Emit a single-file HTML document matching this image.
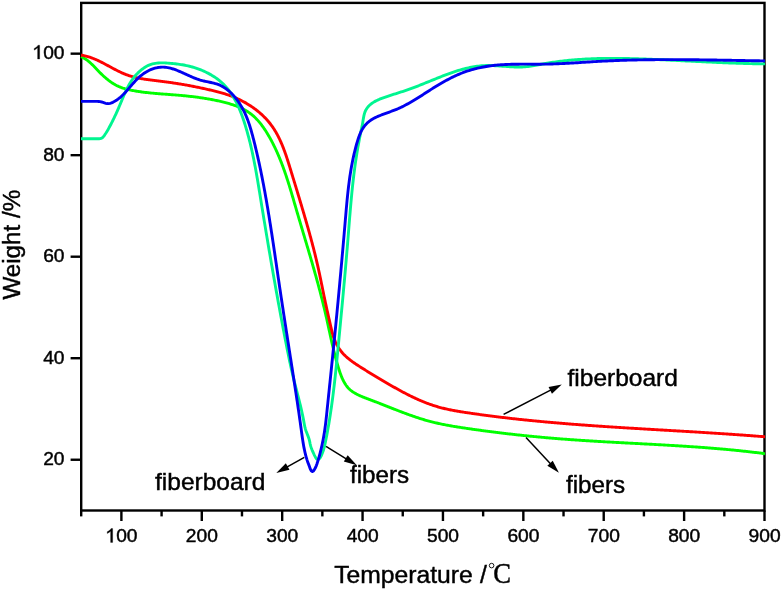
<!DOCTYPE html>
<html><head><meta charset="utf-8"><style>
html,body{margin:0;padding:0;background:#fff;}
body{width:782px;height:590px;overflow:hidden;}
svg{display:block;will-change:transform;}
text{font-family:"Liberation Sans", sans-serif;fill:#000;stroke:#000;stroke-width:0.45px;}
</style></head><body>
<svg width="782" height="590" viewBox="0 0 782 590">
<rect x="81.20" y="2.90" width="683.30" height="507.60" fill="none" stroke="#000" stroke-width="2.4"/>
<g stroke="#000" stroke-width="2.4" fill="none">
<line x1="121.39" y1="510.50" x2="121.39" y2="521" /><line x1="201.78" y1="510.50" x2="201.78" y2="521" /><line x1="282.17" y1="510.50" x2="282.17" y2="521" /><line x1="362.56" y1="510.50" x2="362.56" y2="521" /><line x1="442.95" y1="510.50" x2="442.95" y2="521" /><line x1="523.34" y1="510.50" x2="523.34" y2="521" /><line x1="603.72" y1="510.50" x2="603.72" y2="521" /><line x1="684.11" y1="510.50" x2="684.11" y2="521" /><line x1="764.50" y1="510.50" x2="764.50" y2="521" /><line x1="81.20" y1="510.50" x2="81.20" y2="516.4" /><line x1="161.59" y1="510.50" x2="161.59" y2="516.4" /><line x1="241.98" y1="510.50" x2="241.98" y2="516.4" /><line x1="322.36" y1="510.50" x2="322.36" y2="516.4" /><line x1="402.75" y1="510.50" x2="402.75" y2="516.4" /><line x1="483.14" y1="510.50" x2="483.14" y2="516.4" /><line x1="563.53" y1="510.50" x2="563.53" y2="516.4" /><line x1="643.92" y1="510.50" x2="643.92" y2="516.4" /><line x1="724.31" y1="510.50" x2="724.31" y2="516.4" /><line x1="70.6" y1="459.74" x2="81.20" y2="459.74" /><line x1="70.6" y1="358.22" x2="81.20" y2="358.22" /><line x1="70.6" y1="256.70" x2="81.20" y2="256.70" /><line x1="70.6" y1="155.18" x2="81.20" y2="155.18" /><line x1="70.6" y1="53.66" x2="81.20" y2="53.66" />
</g>
<g fill="none" stroke-width="2.9" stroke-linejoin="round" stroke-linecap="butt">
<path d="M81.01 56.59 L81.92 56.99 L82.81 57.43 L83.68 57.90 L84.53 58.40 L85.37 58.93 L86.18 59.48 L86.98 60.06 L87.76 60.66 L88.54 61.28 L89.29 61.92 L90.04 62.57 L90.78 63.24 L91.51 63.93 L92.23 64.63 L92.95 65.34 L93.66 66.06 L94.36 66.78 L95.06 67.52 L95.76 68.25 L96.46 68.99 L97.16 69.73 L97.87 70.47 L98.57 71.21 L99.28 71.94 L99.99 72.66 L100.71 73.38 L101.44 74.10 L102.17 74.80 L102.91 75.50 L103.65 76.19 L104.40 76.86 L105.16 77.53 L105.92 78.19 L106.69 78.83 L107.47 79.47 L108.25 80.09 L109.05 80.69 L109.85 81.29 L110.65 81.86 L111.47 82.43 L112.30 82.97 L113.13 83.50 L113.98 84.02 L114.83 84.51 L115.69 84.99 L116.56 85.45 L117.45 85.88 L118.34 86.30 L119.24 86.70 L120.15 87.07 L121.07 87.43 L122.01 87.77 L122.94 88.09 L123.89 88.39 L124.84 88.68 L125.80 88.95 L126.77 89.21 L127.74 89.46 L128.72 89.69 L129.70 89.91 L130.69 90.12 L131.67 90.32 L132.67 90.51 L133.66 90.70 L134.66 90.87 L135.65 91.04 L136.65 91.20 L137.65 91.36 L138.65 91.51 L139.65 91.66 L140.65 91.80 L141.66 91.94 L142.66 92.07 L143.66 92.20 L144.67 92.32 L145.67 92.44 L146.68 92.56 L147.68 92.67 L148.69 92.78 L149.69 92.88 L150.70 92.98 L151.71 93.08 L152.71 93.17 L153.72 93.27 L154.73 93.36 L155.74 93.44 L156.74 93.53 L157.75 93.61 L158.76 93.70 L159.77 93.78 L160.77 93.85 L161.78 93.93 L162.79 94.01 L163.79 94.08 L164.80 94.16 L165.81 94.24 L166.81 94.31 L167.82 94.38 L168.82 94.46 L169.82 94.53 L170.83 94.61 L171.83 94.69 L172.83 94.76 L173.83 94.84 L174.83 94.92 L175.83 95.00 L176.83 95.09 L177.83 95.17 L178.82 95.25 L179.82 95.34 L180.82 95.43 L181.81 95.52 L182.81 95.61 L183.80 95.71 L184.79 95.81 L185.79 95.91 L186.78 96.01 L187.77 96.11 L188.76 96.22 L189.76 96.33 L190.75 96.44 L191.74 96.55 L192.73 96.67 L193.72 96.79 L194.71 96.91 L195.70 97.03 L196.69 97.16 L197.68 97.30 L198.67 97.43 L199.66 97.57 L200.65 97.71 L201.64 97.86 L202.63 98.00 L203.62 98.16 L204.61 98.31 L205.60 98.47 L206.59 98.64 L207.58 98.81 L208.58 98.98 L209.57 99.16 L210.56 99.34 L211.55 99.52 L212.54 99.71 L213.54 99.90 L214.53 100.10 L215.52 100.31 L216.52 100.51 L217.51 100.73 L218.51 100.94 L219.51 101.17 L220.50 101.39 L221.50 101.63 L222.50 101.87 L223.50 102.11 L224.49 102.36 L225.49 102.62 L226.48 102.89 L227.47 103.16 L228.46 103.44 L229.44 103.73 L230.43 104.03 L231.40 104.33 L232.38 104.65 L233.35 104.97 L234.31 105.31 L235.27 105.65 L236.22 106.01 L237.17 106.38 L238.11 106.76 L239.04 107.15 L239.96 107.55 L240.88 107.97 L241.78 108.40 L242.68 108.84 L243.57 109.30 L244.45 109.77 L245.32 110.25 L246.17 110.75 L247.02 111.26 L247.85 111.79 L248.68 112.34 L249.49 112.90 L250.28 113.48 L251.07 114.08 L251.84 114.69 L252.60 115.32 L253.34 115.96 L254.07 116.62 L254.79 117.30 L255.50 117.98 L256.20 118.69 L256.88 119.40 L257.56 120.13 L258.22 120.87 L258.87 121.62 L259.52 122.38 L260.15 123.15 L260.77 123.93 L261.38 124.72 L261.99 125.53 L262.58 126.33 L263.17 127.15 L263.74 127.98 L264.31 128.81 L264.87 129.65 L265.43 130.49 L265.97 131.34 L266.51 132.19 L267.04 133.05 L267.56 133.91 L268.08 134.78 L268.59 135.65 L269.10 136.52 L269.60 137.39 L270.09 138.27 L270.58 139.15 L271.06 140.03 L271.53 140.92 L272.01 141.80 L272.47 142.69 L272.93 143.59 L273.38 144.48 L273.83 145.38 L274.27 146.28 L274.71 147.18 L275.15 148.08 L275.57 148.99 L276.00 149.89 L276.42 150.80 L276.83 151.72 L277.24 152.63 L277.64 153.55 L278.04 154.47 L278.44 155.39 L278.83 156.31 L279.22 157.23 L279.60 158.16 L279.98 159.09 L280.35 160.02 L280.73 160.95 L281.09 161.88 L281.46 162.81 L281.82 163.75 L282.17 164.69 L282.53 165.63 L282.87 166.57 L283.22 167.51 L283.56 168.45 L283.90 169.40 L284.24 170.35 L284.57 171.29 L284.90 172.24 L285.23 173.19 L285.56 174.14 L285.88 175.10 L286.20 176.05 L286.52 177.00 L286.83 177.96 L287.15 178.92 L287.46 179.87 L287.77 180.83 L288.07 181.79 L288.38 182.75 L288.68 183.71 L288.98 184.68 L289.28 185.64 L289.57 186.60 L289.87 187.57 L290.16 188.53 L290.46 189.50 L290.75 190.46 L291.04 191.43 L291.33 192.40 L291.62 193.36 L291.90 194.33 L292.19 195.30 L292.47 196.27 L292.76 197.24 L293.04 198.21 L293.33 199.17 L293.61 200.14 L293.89 201.11 L294.17 202.08 L294.45 203.05 L294.73 204.02 L295.02 204.99 L295.30 205.96 L295.58 206.93 L295.86 207.90 L296.14 208.87 L296.42 209.84 L296.71 210.81 L296.99 211.78 L297.27 212.74 L297.56 213.71 L297.84 214.68 L298.13 215.65 L298.41 216.62 L298.70 217.58 L298.98 218.55 L299.27 219.52 L299.55 220.48 L299.84 221.45 L300.12 222.42 L300.41 223.38 L300.70 224.35 L300.98 225.31 L301.27 226.28 L301.56 227.25 L301.85 228.21 L302.13 229.18 L302.42 230.14 L302.71 231.11 L303.00 232.07 L303.28 233.04 L303.57 234.00 L303.86 234.97 L304.15 235.93 L304.43 236.89 L304.72 237.86 L305.01 238.82 L305.29 239.79 L305.58 240.75 L305.87 241.72 L306.15 242.68 L306.44 243.64 L306.73 244.61 L307.01 245.57 L307.30 246.54 L307.59 247.50 L307.87 248.47 L308.16 249.43 L308.44 250.39 L308.72 251.36 L309.01 252.32 L309.29 253.29 L309.58 254.25 L309.86 255.21 L310.14 256.18 L310.42 257.14 L310.71 258.11 L310.99 259.07 L311.27 260.04 L311.55 261.00 L311.83 261.97 L312.11 262.93 L312.38 263.90 L312.66 264.86 L312.94 265.83 L313.22 266.79 L313.49 267.76 L313.77 268.72 L314.04 269.69 L314.32 270.65 L314.59 271.62 L314.86 272.58 L315.14 273.55 L315.41 274.52 L315.68 275.48 L315.95 276.45 L316.22 277.42 L316.49 278.38 L316.75 279.35 L317.02 280.32 L317.29 281.29 L317.55 282.25 L317.81 283.22 L318.08 284.19 L318.34 285.16 L318.60 286.13 L318.86 287.10 L319.12 288.07 L319.38 289.04 L319.63 290.01 L319.89 290.98 L320.15 291.95 L320.40 292.92 L320.65 293.89 L320.90 294.86 L321.15 295.83 L321.40 296.80 L321.65 297.78 L321.90 298.75 L322.14 299.72 L322.39 300.69 L322.63 301.67 L322.87 302.64 L323.11 303.62 L323.35 304.59 L323.59 305.57 L323.83 306.54 L324.06 307.52 L324.30 308.49 L324.53 309.47 L324.76 310.45 L324.99 311.42 L325.22 312.40 L325.45 313.38 L325.67 314.36 L325.90 315.34 L326.12 316.32 L326.34 317.30 L326.56 318.28 L326.78 319.26 L327.00 320.24 L327.21 321.22 L327.43 322.20 L327.64 323.18 L327.86 324.16 L328.07 325.15 L328.28 326.13 L328.50 327.11 L328.71 328.10 L328.92 329.08 L329.14 330.06 L329.35 331.05 L329.56 332.03 L329.78 333.01 L329.99 334.00 L330.20 334.98 L330.42 335.97 L330.64 336.95 L330.85 337.93 L331.07 338.92 L331.29 339.90 L331.51 340.88 L331.73 341.87 L331.95 342.85 L332.18 343.83 L332.41 344.82 L332.63 345.80 L332.86 346.78 L333.10 347.77 L333.33 348.75 L333.57 349.73 L333.80 350.71 L334.05 351.70 L334.29 352.68 L334.54 353.66 L334.78 354.64 L335.04 355.62 L335.29 356.60 L335.55 357.58 L335.81 358.56 L336.08 359.54 L336.34 360.51 L336.61 361.49 L336.89 362.47 L337.17 363.44 L337.45 364.42 L337.74 365.40 L338.03 366.37 L338.32 367.35 L338.62 368.32 L338.93 369.29 L339.24 370.26 L339.55 371.23 L339.88 372.20 L340.21 373.16 L340.55 374.11 L340.90 375.06 L341.26 376.00 L341.63 376.93 L342.02 377.85 L342.42 378.75 L342.84 379.65 L343.27 380.53 L343.72 381.40 L344.19 382.26 L344.67 383.10 L345.18 383.92 L345.71 384.72 L346.26 385.50 L346.83 386.27 L347.42 387.01 L348.04 387.73 L348.69 388.42 L349.36 389.09 L350.06 389.74 L350.79 390.36 L351.54 390.95 L352.32 391.52 L353.12 392.07 L353.94 392.61 L354.78 393.12 L355.64 393.61 L356.52 394.09 L357.42 394.55 L358.33 394.99 L359.25 395.43 L360.19 395.85 L361.13 396.26 L362.09 396.66 L363.06 397.05 L364.03 397.44 L365.01 397.81 L365.99 398.19 L366.97 398.56 L367.96 398.93 L368.95 399.30 L369.93 399.67 L370.92 400.03 L371.90 400.40 L372.88 400.78 L373.85 401.15 L374.83 401.52 L375.80 401.90 L376.77 402.27 L377.74 402.65 L378.70 403.02 L379.67 403.40 L380.63 403.78 L381.59 404.15 L382.55 404.53 L383.51 404.91 L384.46 405.28 L385.42 405.66 L386.37 406.04 L387.32 406.41 L388.27 406.79 L389.22 407.17 L390.17 407.54 L391.11 407.91 L392.06 408.29 L393.01 408.66 L393.95 409.03 L394.89 409.40 L395.84 409.77 L396.78 410.14 L397.72 410.50 L398.66 410.87 L399.60 411.23 L400.54 411.59 L401.48 411.95 L402.42 412.30 L403.36 412.66 L404.30 413.01 L405.24 413.36 L406.18 413.71 L407.12 414.06 L408.06 414.40 L409.00 414.74 L409.94 415.08 L410.88 415.41 L411.82 415.74 L412.77 416.07 L413.71 416.40 L414.65 416.72 L415.60 417.04 L416.54 417.36 L417.49 417.67 L418.43 417.98 L419.38 418.28 L420.33 418.58 L421.28 418.88 L422.23 419.17 L423.18 419.46 L424.13 419.75 L425.09 420.03 L426.05 420.31 L427.00 420.58 L427.96 420.84 L428.92 421.11 L429.89 421.36 L430.85 421.62 L431.82 421.86 L432.79 422.11 L433.76 422.34 L434.73 422.58 L435.70 422.81 L436.68 423.03 L437.65 423.25 L438.63 423.47 L439.61 423.68 L440.59 423.89 L441.57 424.10 L442.55 424.30 L443.54 424.50 L444.52 424.69 L445.51 424.88 L446.50 425.07 L447.49 425.26 L448.48 425.44 L449.47 425.62 L450.46 425.80 L451.45 425.97 L452.44 426.14 L453.44 426.31 L454.43 426.48 L455.42 426.64 L456.42 426.80 L457.42 426.96 L458.41 427.12 L459.41 427.28 L460.41 427.43 L461.40 427.59 L462.40 427.74 L463.40 427.89 L464.40 428.04 L465.40 428.19 L466.40 428.33 L467.40 428.48 L468.39 428.62 L469.39 428.77 L470.39 428.91 L471.39 429.05 L472.39 429.20 L473.39 429.34 L474.39 429.48 L475.39 429.62 L476.38 429.76 L477.38 429.90 L478.38 430.03 L479.38 430.17 L480.38 430.31 L481.38 430.44 L482.38 430.58 L483.38 430.71 L484.37 430.85 L485.37 430.98 L486.37 431.11 L487.37 431.24 L488.37 431.37 L489.37 431.50 L490.37 431.63 L491.37 431.76 L492.36 431.89 L493.36 432.01 L494.36 432.14 L495.36 432.26 L496.36 432.39 L497.36 432.51 L498.36 432.63 L499.36 432.76 L500.35 432.88 L501.35 433.00 L502.35 433.12 L503.35 433.24 L504.35 433.36 L505.35 433.47 L506.35 433.59 L507.35 433.71 L508.35 433.82 L509.34 433.94 L510.34 434.05 L511.34 434.17 L512.34 434.28 L513.34 434.39 L514.34 434.50 L515.34 434.61 L516.34 434.72 L517.34 434.83 L518.34 434.94 L519.34 435.05 L520.34 435.16 L521.34 435.26 L522.33 435.37 L523.33 435.47 L524.33 435.58 L525.33 435.68 L526.33 435.78 L527.33 435.89 L528.33 435.99 L529.33 436.09 L530.33 436.19 L531.33 436.29 L532.33 436.39 L533.33 436.48 L534.33 436.58 L535.33 436.68 L536.33 436.77 L537.33 436.87 L538.33 436.96 L539.33 437.06 L540.33 437.15 L541.33 437.24 L542.33 437.33 L543.33 437.42 L544.33 437.51 L545.34 437.60 L546.34 437.69 L547.34 437.78 L548.34 437.87 L549.34 437.95 L550.34 438.04 L551.34 438.12 L552.34 438.21 L553.34 438.29 L554.34 438.38 L555.35 438.46 L556.35 438.54 L557.35 438.62 L558.35 438.70 L559.35 438.78 L560.35 438.86 L561.36 438.94 L562.36 439.01 L563.36 439.09 L564.36 439.17 L565.36 439.24 L566.37 439.32 L567.37 439.39 L568.37 439.47 L569.37 439.54 L570.38 439.61 L571.38 439.68 L572.38 439.75 L573.38 439.82 L574.39 439.90 L575.39 439.96 L576.39 440.03 L577.40 440.10 L578.40 440.17 L579.40 440.24 L580.41 440.30 L581.41 440.37 L582.41 440.44 L583.42 440.50 L584.42 440.57 L585.42 440.63 L586.43 440.69 L587.43 440.76 L588.43 440.82 L589.44 440.88 L590.44 440.95 L591.44 441.01 L592.45 441.07 L593.45 441.13 L594.46 441.19 L595.46 441.25 L596.46 441.31 L597.47 441.37 L598.47 441.43 L599.48 441.49 L600.48 441.55 L601.49 441.60 L602.49 441.66 L603.49 441.72 L604.50 441.78 L605.50 441.83 L606.51 441.89 L607.51 441.95 L608.52 442.00 L609.52 442.06 L610.53 442.12 L611.53 442.17 L612.54 442.23 L613.54 442.28 L614.55 442.34 L615.55 442.39 L616.56 442.45 L617.56 442.50 L618.56 442.55 L619.57 442.61 L620.57 442.66 L621.58 442.72 L622.58 442.77 L623.59 442.82 L624.59 442.88 L625.60 442.93 L626.60 442.98 L627.61 443.04 L628.61 443.09 L629.62 443.14 L630.62 443.20 L631.63 443.25 L632.63 443.30 L633.64 443.35 L634.64 443.41 L635.65 443.46 L636.66 443.51 L637.66 443.57 L638.67 443.62 L639.67 443.67 L640.68 443.72 L641.68 443.78 L642.69 443.83 L643.69 443.88 L644.70 443.94 L645.70 443.99 L646.71 444.04 L647.71 444.10 L648.72 444.15 L649.72 444.21 L650.73 444.26 L651.73 444.31 L652.74 444.37 L653.74 444.42 L654.75 444.48 L655.75 444.53 L656.76 444.59 L657.76 444.64 L658.77 444.70 L659.77 444.75 L660.78 444.81 L661.78 444.87 L662.79 444.92 L663.79 444.98 L664.80 445.04 L665.80 445.09 L666.81 445.15 L667.81 445.21 L668.82 445.27 L669.82 445.33 L670.83 445.38 L671.83 445.44 L672.84 445.50 L673.84 445.56 L674.84 445.62 L675.85 445.68 L676.85 445.74 L677.86 445.81 L678.86 445.87 L679.87 445.93 L680.87 445.99 L681.88 446.05 L682.88 446.12 L683.88 446.18 L684.89 446.25 L685.89 446.31 L686.90 446.38 L687.90 446.44 L688.91 446.51 L689.91 446.58 L690.91 446.64 L691.92 446.71 L692.92 446.78 L693.92 446.85 L694.93 446.92 L695.93 446.99 L696.94 447.06 L697.94 447.13 L698.94 447.20 L699.95 447.27 L700.95 447.35 L701.95 447.42 L702.96 447.49 L703.96 447.57 L704.96 447.64 L705.97 447.72 L706.97 447.80 L707.97 447.87 L708.97 447.95 L709.98 448.03 L710.98 448.11 L711.98 448.19 L712.99 448.27 L713.99 448.35 L714.99 448.43 L715.99 448.52 L717.00 448.60 L718.00 448.69 L719.00 448.77 L720.00 448.86 L721.00 448.95 L722.01 449.03 L723.01 449.12 L724.01 449.21 L725.01 449.30 L726.01 449.39 L727.01 449.48 L728.02 449.58 L729.02 449.67 L730.02 449.77 L731.02 449.86 L732.02 449.96 L733.02 450.05 L734.02 450.15 L735.02 450.25 L736.02 450.35 L737.03 450.45 L738.03 450.55 L739.03 450.66 L740.03 450.76 L741.03 450.87 L742.03 450.97 L743.03 451.08 L744.03 451.19 L745.03 451.29 L746.03 451.40 L747.03 451.52 L748.03 451.63 L749.02 451.74 L750.02 451.85 L751.02 451.97 L752.02 452.09 L753.02 452.20 L754.02 452.32 L755.02 452.44 L756.02 452.56 L757.02 452.68 L758.01 452.81 L759.01 452.93 L760.01 453.06 L761.01 453.18 L762.01 453.31 L763.00 453.44 L764.00 453.57 L765.00 453.70" stroke="#00ff00" />
<path d="M81.00 55.10 L81.98 55.25 L82.96 55.42 L83.92 55.61 L84.88 55.83 L85.84 56.06 L86.79 56.31 L87.73 56.57 L88.67 56.86 L89.60 57.15 L90.52 57.47 L91.45 57.80 L92.36 58.14 L93.27 58.49 L94.18 58.86 L95.09 59.24 L95.99 59.63 L96.88 60.03 L97.78 60.44 L98.67 60.86 L99.55 61.28 L100.44 61.72 L101.32 62.16 L102.20 62.61 L103.08 63.06 L103.96 63.52 L104.83 63.98 L105.71 64.45 L106.58 64.92 L107.45 65.39 L108.32 65.86 L109.19 66.33 L110.06 66.80 L110.94 67.28 L111.81 67.75 L112.68 68.22 L113.55 68.68 L114.43 69.15 L115.30 69.60 L116.18 70.06 L117.06 70.51 L117.94 70.95 L118.82 71.39 L119.70 71.81 L120.59 72.23 L121.48 72.65 L122.38 73.05 L123.27 73.44 L124.17 73.82 L125.08 74.19 L125.99 74.55 L126.90 74.89 L127.82 75.22 L128.74 75.54 L129.66 75.84 L130.60 76.13 L131.53 76.40 L132.47 76.67 L133.41 76.92 L134.36 77.16 L135.31 77.39 L136.26 77.62 L137.21 77.83 L138.17 78.03 L139.13 78.22 L140.10 78.41 L141.06 78.58 L142.03 78.75 L143.00 78.91 L143.98 79.07 L144.95 79.22 L145.93 79.37 L146.90 79.51 L147.88 79.64 L148.86 79.77 L149.84 79.90 L150.82 80.03 L151.80 80.15 L152.78 80.27 L153.77 80.39 L154.75 80.51 L155.73 80.63 L156.71 80.74 L157.69 80.86 L158.67 80.98 L159.65 81.10 L160.63 81.22 L161.60 81.35 L162.58 81.47 L163.56 81.60 L164.53 81.73 L165.51 81.85 L166.48 81.99 L167.45 82.12 L168.43 82.25 L169.40 82.39 L170.37 82.53 L171.35 82.67 L172.32 82.81 L173.29 82.95 L174.26 83.10 L175.24 83.25 L176.21 83.40 L177.18 83.55 L178.15 83.70 L179.12 83.86 L180.10 84.02 L181.07 84.18 L182.04 84.34 L183.02 84.51 L183.99 84.68 L184.96 84.85 L185.94 85.02 L186.91 85.19 L187.88 85.37 L188.85 85.55 L189.83 85.73 L190.80 85.91 L191.77 86.10 L192.74 86.29 L193.71 86.48 L194.68 86.67 L195.65 86.86 L196.62 87.06 L197.59 87.25 L198.56 87.45 L199.53 87.65 L200.49 87.86 L201.46 88.06 L202.42 88.27 L203.39 88.48 L204.35 88.69 L205.31 88.90 L206.27 89.11 L207.23 89.33 L208.19 89.55 L209.15 89.77 L210.10 89.99 L211.06 90.21 L212.01 90.43 L212.96 90.66 L213.91 90.89 L214.86 91.12 L215.81 91.35 L216.76 91.59 L217.70 91.84 L218.64 92.09 L219.59 92.34 L220.53 92.60 L221.47 92.86 L222.40 93.13 L223.34 93.41 L224.27 93.69 L225.21 93.98 L226.14 94.28 L227.07 94.59 L228.00 94.90 L228.92 95.23 L229.85 95.56 L230.77 95.90 L231.69 96.25 L232.61 96.61 L233.53 96.98 L234.45 97.36 L235.36 97.75 L236.27 98.15 L237.18 98.56 L238.08 98.97 L238.98 99.40 L239.88 99.83 L240.77 100.28 L241.66 100.73 L242.55 101.19 L243.43 101.66 L244.31 102.14 L245.18 102.63 L246.05 103.12 L246.91 103.63 L247.77 104.15 L248.62 104.67 L249.46 105.20 L250.30 105.74 L251.14 106.29 L251.97 106.85 L252.79 107.41 L253.60 107.99 L254.41 108.57 L255.21 109.17 L256.00 109.77 L256.79 110.37 L257.57 110.99 L258.34 111.62 L259.10 112.25 L259.85 112.89 L260.60 113.54 L261.34 114.20 L262.06 114.87 L262.78 115.54 L263.49 116.23 L264.19 116.92 L264.88 117.62 L265.56 118.32 L266.24 119.04 L266.90 119.76 L267.55 120.49 L268.19 121.23 L268.82 121.97 L269.43 122.73 L270.04 123.49 L270.64 124.26 L271.22 125.04 L271.79 125.82 L272.36 126.61 L272.91 127.41 L273.45 128.22 L273.98 129.03 L274.50 129.85 L275.01 130.68 L275.51 131.51 L276.00 132.35 L276.48 133.19 L276.95 134.04 L277.42 134.90 L277.87 135.76 L278.32 136.62 L278.76 137.49 L279.19 138.37 L279.61 139.25 L280.03 140.14 L280.44 141.03 L280.84 141.92 L281.23 142.82 L281.62 143.73 L282.00 144.63 L282.38 145.54 L282.74 146.46 L283.11 147.38 L283.47 148.30 L283.82 149.22 L284.17 150.15 L284.51 151.08 L284.85 152.01 L285.18 152.94 L285.51 153.88 L285.83 154.82 L286.16 155.76 L286.47 156.70 L286.79 157.64 L287.10 158.59 L287.41 159.53 L287.71 160.48 L288.02 161.43 L288.32 162.38 L288.62 163.33 L288.91 164.28 L289.21 165.23 L289.50 166.18 L289.80 167.13 L290.09 168.08 L290.38 169.03 L290.67 169.98 L290.96 170.92 L291.25 171.87 L291.54 172.82 L291.83 173.76 L292.12 174.71 L292.41 175.65 L292.70 176.60 L292.98 177.54 L293.27 178.48 L293.56 179.42 L293.85 180.37 L294.14 181.31 L294.42 182.25 L294.71 183.19 L295.00 184.13 L295.28 185.07 L295.57 186.01 L295.85 186.95 L296.14 187.89 L296.42 188.83 L296.71 189.76 L296.99 190.70 L297.28 191.64 L297.56 192.58 L297.84 193.52 L298.13 194.46 L298.41 195.39 L298.69 196.33 L298.98 197.27 L299.26 198.21 L299.54 199.15 L299.82 200.09 L300.10 201.03 L300.38 201.96 L300.67 202.90 L300.95 203.84 L301.23 204.78 L301.51 205.72 L301.79 206.66 L302.07 207.60 L302.34 208.55 L302.62 209.49 L302.90 210.43 L303.18 211.37 L303.46 212.31 L303.74 213.26 L304.01 214.20 L304.29 215.15 L304.57 216.09 L304.84 217.04 L305.12 217.98 L305.39 218.93 L305.67 219.88 L305.94 220.82 L306.21 221.77 L306.49 222.72 L306.76 223.67 L307.03 224.62 L307.30 225.56 L307.57 226.51 L307.84 227.46 L308.11 228.41 L308.38 229.36 L308.64 230.32 L308.91 231.27 L309.17 232.22 L309.44 233.17 L309.70 234.12 L309.96 235.08 L310.23 236.03 L310.49 236.98 L310.75 237.93 L311.00 238.89 L311.26 239.84 L311.52 240.80 L311.77 241.75 L312.03 242.71 L312.28 243.66 L312.53 244.62 L312.78 245.57 L313.03 246.53 L313.28 247.48 L313.52 248.44 L313.77 249.40 L314.01 250.35 L314.25 251.31 L314.49 252.27 L314.73 253.22 L314.97 254.18 L315.21 255.14 L315.44 256.10 L315.67 257.06 L315.91 258.01 L316.14 258.97 L316.36 259.93 L316.59 260.89 L316.81 261.85 L317.04 262.81 L317.26 263.77 L317.48 264.72 L317.70 265.68 L317.91 266.64 L318.13 267.60 L318.34 268.56 L318.55 269.52 L318.76 270.48 L318.97 271.44 L319.17 272.40 L319.38 273.36 L319.58 274.32 L319.79 275.28 L319.99 276.24 L320.19 277.20 L320.39 278.16 L320.59 279.12 L320.79 280.08 L320.99 281.05 L321.18 282.01 L321.38 282.97 L321.58 283.93 L321.77 284.89 L321.97 285.85 L322.16 286.82 L322.36 287.78 L322.56 288.74 L322.75 289.70 L322.95 290.67 L323.14 291.63 L323.34 292.59 L323.54 293.56 L323.73 294.52 L323.93 295.49 L324.13 296.45 L324.33 297.41 L324.53 298.38 L324.73 299.34 L324.94 300.31 L325.14 301.28 L325.34 302.24 L325.55 303.21 L325.76 304.17 L325.97 305.14 L326.18 306.11 L326.39 307.07 L326.60 308.04 L326.81 309.01 L327.03 309.98 L327.25 310.95 L327.46 311.91 L327.68 312.88 L327.90 313.85 L328.12 314.82 L328.34 315.79 L328.56 316.76 L328.78 317.73 L329.00 318.70 L329.22 319.67 L329.44 320.64 L329.66 321.61 L329.89 322.58 L330.11 323.56 L330.33 324.53 L330.55 325.50 L330.77 326.47 L330.99 327.44 L331.21 328.42 L331.43 329.39 L331.66 330.35 L331.90 331.32 L332.14 332.28 L332.39 333.23 L332.66 334.19 L332.93 335.13 L333.22 336.07 L333.53 337.00 L333.85 337.92 L334.19 338.84 L334.55 339.75 L334.92 340.65 L335.30 341.54 L335.71 342.42 L336.13 343.29 L336.57 344.16 L337.02 345.01 L337.49 345.85 L337.98 346.69 L338.49 347.51 L339.01 348.32 L339.55 349.12 L340.11 349.91 L340.69 350.69 L341.28 351.46 L341.90 352.21 L342.53 352.96 L343.18 353.69 L343.85 354.41 L344.54 355.11 L345.24 355.80 L345.96 356.49 L346.70 357.15 L347.46 357.81 L348.22 358.46 L349.00 359.10 L349.79 359.72 L350.59 360.34 L351.40 360.95 L352.22 361.55 L353.05 362.14 L353.88 362.73 L354.72 363.31 L355.57 363.88 L356.41 364.44 L357.26 365.00 L358.12 365.56 L358.97 366.11 L359.82 366.65 L360.67 367.19 L361.51 367.73 L362.36 368.26 L363.20 368.79 L364.05 369.32 L364.89 369.84 L365.73 370.36 L366.57 370.88 L367.40 371.40 L368.24 371.91 L369.08 372.42 L369.91 372.93 L370.75 373.44 L371.58 373.94 L372.42 374.45 L373.25 374.95 L374.09 375.45 L374.92 375.95 L375.75 376.45 L376.59 376.95 L377.43 377.45 L378.26 377.95 L379.10 378.45 L379.94 378.95 L380.78 379.45 L381.62 379.94 L382.46 380.44 L383.30 380.94 L384.15 381.44 L384.99 381.94 L385.84 382.44 L386.69 382.94 L387.54 383.43 L388.39 383.93 L389.24 384.43 L390.10 384.92 L390.95 385.42 L391.81 385.91 L392.66 386.40 L393.52 386.89 L394.38 387.38 L395.25 387.87 L396.11 388.35 L396.97 388.84 L397.84 389.32 L398.71 389.80 L399.58 390.27 L400.45 390.75 L401.32 391.22 L402.19 391.69 L403.07 392.16 L403.94 392.62 L404.82 393.08 L405.70 393.54 L406.58 394.00 L407.47 394.45 L408.35 394.90 L409.24 395.34 L410.12 395.79 L411.01 396.22 L411.91 396.66 L412.80 397.09 L413.69 397.51 L414.59 397.93 L415.49 398.35 L416.38 398.76 L417.29 399.17 L418.19 399.58 L419.09 399.98 L420.00 400.37 L420.91 400.76 L421.82 401.14 L422.73 401.52 L423.64 401.89 L424.56 402.26 L425.47 402.62 L426.39 402.98 L427.31 403.33 L428.24 403.67 L429.16 404.01 L430.09 404.34 L431.01 404.67 L431.94 404.99 L432.88 405.30 L433.81 405.60 L434.75 405.90 L435.68 406.19 L436.62 406.48 L437.57 406.76 L438.51 407.03 L439.45 407.29 L440.40 407.55 L441.35 407.80 L442.30 408.04 L443.26 408.28 L444.21 408.51 L445.17 408.73 L446.12 408.95 L447.08 409.17 L448.04 409.38 L449.00 409.58 L449.97 409.78 L450.93 409.97 L451.90 410.16 L452.86 410.35 L453.83 410.53 L454.80 410.70 L455.77 410.88 L456.74 411.05 L457.71 411.22 L458.68 411.38 L459.65 411.54 L460.62 411.70 L461.60 411.86 L462.57 412.01 L463.55 412.16 L464.52 412.31 L465.50 412.46 L466.47 412.61 L467.45 412.75 L468.42 412.90 L469.40 413.04 L470.37 413.19 L471.35 413.33 L472.32 413.47 L473.30 413.61 L474.28 413.75 L475.25 413.89 L476.23 414.03 L477.21 414.16 L478.18 414.30 L479.16 414.43 L480.14 414.57 L481.11 414.70 L482.09 414.84 L483.07 414.97 L484.04 415.10 L485.02 415.23 L486.00 415.36 L486.97 415.49 L487.95 415.62 L488.93 415.74 L489.91 415.87 L490.88 416.00 L491.86 416.12 L492.84 416.25 L493.82 416.37 L494.79 416.49 L495.77 416.61 L496.75 416.74 L497.73 416.86 L498.71 416.98 L499.68 417.10 L500.66 417.21 L501.64 417.33 L502.62 417.45 L503.60 417.56 L504.58 417.68 L505.55 417.80 L506.53 417.91 L507.51 418.02 L508.49 418.14 L509.47 418.25 L510.45 418.36 L511.43 418.47 L512.41 418.58 L513.39 418.69 L514.37 418.80 L515.34 418.91 L516.32 419.01 L517.30 419.12 L518.28 419.23 L519.26 419.33 L520.24 419.44 L521.22 419.54 L522.20 419.64 L523.18 419.75 L524.16 419.85 L525.14 419.95 L526.12 420.05 L527.10 420.15 L528.08 420.25 L529.06 420.35 L530.04 420.45 L531.02 420.55 L532.00 420.64 L532.98 420.74 L533.96 420.84 L534.94 420.93 L535.92 421.03 L536.91 421.12 L537.89 421.22 L538.87 421.31 L539.85 421.40 L540.83 421.49 L541.81 421.59 L542.79 421.68 L543.77 421.77 L544.75 421.86 L545.73 421.95 L546.71 422.04 L547.70 422.12 L548.68 422.21 L549.66 422.30 L550.64 422.39 L551.62 422.47 L552.60 422.56 L553.58 422.64 L554.57 422.73 L555.55 422.81 L556.53 422.90 L557.51 422.98 L558.49 423.06 L559.47 423.15 L560.46 423.23 L561.44 423.31 L562.42 423.39 L563.40 423.47 L564.38 423.55 L565.37 423.63 L566.35 423.71 L567.33 423.79 L568.31 423.87 L569.30 423.95 L570.28 424.02 L571.26 424.10 L572.24 424.18 L573.22 424.26 L574.21 424.33 L575.19 424.41 L576.17 424.48 L577.15 424.56 L578.14 424.63 L579.12 424.71 L580.10 424.78 L581.09 424.85 L582.07 424.93 L583.05 425.00 L584.03 425.07 L585.02 425.14 L586.00 425.21 L586.98 425.28 L587.97 425.36 L588.95 425.43 L589.93 425.50 L590.91 425.57 L591.90 425.64 L592.88 425.70 L593.86 425.77 L594.85 425.84 L595.83 425.91 L596.81 425.98 L597.80 426.05 L598.78 426.11 L599.76 426.18 L600.75 426.25 L601.73 426.31 L602.71 426.38 L603.70 426.45 L604.68 426.51 L605.66 426.58 L606.65 426.64 L607.63 426.71 L608.62 426.77 L609.60 426.84 L610.58 426.90 L611.57 426.96 L612.55 427.03 L613.53 427.09 L614.52 427.15 L615.50 427.22 L616.48 427.28 L617.47 427.34 L618.45 427.40 L619.44 427.47 L620.42 427.53 L621.40 427.59 L622.39 427.65 L623.37 427.71 L624.36 427.77 L625.34 427.84 L626.32 427.90 L627.31 427.96 L628.29 428.02 L629.27 428.08 L630.26 428.14 L631.24 428.20 L632.23 428.26 L633.21 428.32 L634.19 428.38 L635.18 428.44 L636.16 428.50 L637.15 428.56 L638.13 428.61 L639.12 428.67 L640.10 428.73 L641.08 428.79 L642.07 428.85 L643.05 428.91 L644.04 428.97 L645.02 429.02 L646.00 429.08 L646.99 429.14 L647.97 429.20 L648.96 429.26 L649.94 429.31 L650.92 429.37 L651.91 429.43 L652.89 429.49 L653.88 429.55 L654.86 429.60 L655.85 429.66 L656.83 429.72 L657.81 429.78 L658.80 429.83 L659.78 429.89 L660.77 429.95 L661.75 430.01 L662.74 430.06 L663.72 430.12 L664.70 430.18 L665.69 430.24 L666.67 430.29 L667.66 430.35 L668.64 430.41 L669.62 430.47 L670.61 430.52 L671.59 430.58 L672.58 430.64 L673.56 430.70 L674.55 430.75 L675.53 430.81 L676.51 430.87 L677.50 430.93 L678.48 430.98 L679.47 431.04 L680.45 431.10 L681.43 431.16 L682.42 431.22 L683.40 431.27 L684.39 431.33 L685.37 431.39 L686.35 431.45 L687.34 431.51 L688.32 431.57 L689.31 431.63 L690.29 431.68 L691.27 431.74 L692.26 431.80 L693.24 431.86 L694.23 431.92 L695.21 431.98 L696.19 432.04 L697.18 432.10 L698.16 432.16 L699.15 432.22 L700.13 432.28 L701.11 432.34 L702.10 432.40 L703.08 432.46 L704.06 432.52 L705.05 432.58 L706.03 432.64 L707.02 432.70 L708.00 432.77 L708.98 432.83 L709.97 432.89 L710.95 432.95 L711.93 433.01 L712.92 433.08 L713.90 433.14 L714.88 433.20 L715.87 433.27 L716.85 433.33 L717.83 433.39 L718.82 433.46 L719.80 433.52 L720.78 433.58 L721.77 433.65 L722.75 433.71 L723.73 433.78 L724.72 433.84 L725.70 433.91 L726.68 433.98 L727.67 434.04 L728.65 434.11 L729.63 434.18 L730.62 434.24 L731.60 434.31 L732.58 434.38 L733.57 434.44 L734.55 434.51 L735.53 434.58 L736.51 434.65 L737.50 434.72 L738.48 434.79 L739.46 434.86 L740.45 434.93 L741.43 435.00 L742.41 435.07 L743.39 435.14 L744.38 435.21 L745.36 435.28 L746.34 435.36 L747.32 435.43 L748.31 435.50 L749.29 435.57 L750.27 435.65 L751.25 435.72 L752.23 435.80 L753.22 435.87 L754.20 435.95 L755.18 436.02 L756.16 436.10 L757.15 436.17 L758.13 436.25 L759.11 436.33 L760.09 436.41 L761.07 436.48 L762.05 436.56 L763.04 436.64 L764.02 436.72 L765.00 436.80" stroke="#ff0000" />
<path d="M81.00 138.80 L82.49 138.80 L83.99 138.80 L85.48 138.80 L86.98 138.80 L88.48 138.80 L89.97 138.80 L91.47 138.80 L92.96 138.80 L94.45 138.80 L95.95 138.80 L97.45 138.80 L98.95 138.81 L100.40 138.67 L101.71 138.18 L102.85 137.26 L103.86 136.09 L104.78 134.81 L105.65 133.52 L106.47 132.23 L107.25 130.95 L108.00 129.66 L108.72 128.36 L109.42 127.06 L110.12 125.76 L110.81 124.45 L111.49 123.14 L112.16 121.81 L112.82 120.49 L113.48 119.16 L114.13 117.82 L114.77 116.47 L115.40 115.13 L116.03 113.77 L116.65 112.41 L117.26 111.05 L117.87 109.68 L118.47 108.31 L119.06 106.93 L119.65 105.55 L120.23 104.16 L120.81 102.77 L121.39 101.37 L121.96 99.98 L122.54 98.59 L123.13 97.20 L123.71 95.81 L124.31 94.43 L124.92 93.05 L125.54 91.69 L126.17 90.33 L126.82 88.98 L127.49 87.65 L128.18 86.33 L128.90 85.02 L129.63 83.74 L130.40 82.47 L131.19 81.22 L132.01 79.99 L132.87 78.78 L133.76 77.60 L134.69 76.44 L135.66 75.32 L136.67 74.21 L137.71 73.14 L138.79 72.11 L139.90 71.11 L141.04 70.15 L142.20 69.23 L143.38 68.35 L144.59 67.52 L145.82 66.75 L147.08 66.04 L148.38 65.40 L149.71 64.83 L151.07 64.34 L152.47 63.93 L153.90 63.60 L155.37 63.33 L156.86 63.13 L158.36 62.99 L159.89 62.90 L161.43 62.86 L162.97 62.87 L164.52 62.91 L166.07 62.98 L167.62 63.08 L169.16 63.20 L170.68 63.33 L172.19 63.47 L173.68 63.63 L175.16 63.79 L176.62 63.96 L178.08 64.14 L179.52 64.34 L180.95 64.56 L182.37 64.79 L183.79 65.04 L185.21 65.30 L186.63 65.60 L188.04 65.91 L189.46 66.25 L190.88 66.61 L192.31 67.01 L193.74 67.43 L195.17 67.87 L196.61 68.35 L198.04 68.85 L199.48 69.38 L200.90 69.94 L202.33 70.53 L203.74 71.14 L205.14 71.78 L206.54 72.45 L207.92 73.15 L209.28 73.87 L210.63 74.62 L211.96 75.40 L213.27 76.20 L214.56 77.03 L215.82 77.88 L217.06 78.77 L218.27 79.68 L219.45 80.61 L220.60 81.57 L221.72 82.56 L222.81 83.57 L223.86 84.61 L224.89 85.67 L225.88 86.75 L226.85 87.86 L227.79 88.99 L228.70 90.14 L229.58 91.30 L230.44 92.49 L231.28 93.70 L232.09 94.92 L232.87 96.17 L233.63 97.42 L234.37 98.70 L235.09 99.99 L235.79 101.29 L236.47 102.61 L237.12 103.94 L237.76 105.28 L238.38 106.63 L238.99 108.00 L239.57 109.37 L240.14 110.76 L240.70 112.15 L241.24 113.55 L241.77 114.95 L242.28 116.37 L242.78 117.78 L243.27 119.21 L243.75 120.63 L244.22 122.06 L244.68 123.50 L245.13 124.93 L245.57 126.37 L246.01 127.81 L246.43 129.24 L246.85 130.69 L247.26 132.13 L247.67 133.57 L248.06 135.02 L248.45 136.46 L248.83 137.91 L249.21 139.36 L249.57 140.81 L249.94 142.26 L250.29 143.71 L250.64 145.17 L250.98 146.62 L251.32 148.08 L251.65 149.54 L251.98 151.00 L252.30 152.45 L252.61 153.91 L252.92 155.38 L253.23 156.84 L253.53 158.30 L253.83 159.77 L254.12 161.23 L254.41 162.70 L254.69 164.16 L254.97 165.63 L255.25 167.10 L255.52 168.57 L255.79 170.03 L256.05 171.50 L256.32 172.97 L256.58 174.45 L256.84 175.92 L257.09 177.39 L257.34 178.86 L257.60 180.33 L257.85 181.81 L258.09 183.28 L258.34 184.75 L258.58 186.23 L258.83 187.70 L259.07 189.18 L259.31 190.65 L259.55 192.13 L259.79 193.60 L260.03 195.08 L260.27 196.55 L260.50 198.03 L260.74 199.51 L260.98 200.98 L261.22 202.46 L261.46 203.93 L261.70 205.41 L261.94 206.88 L262.18 208.36 L262.42 209.84 L262.66 211.31 L262.90 212.79 L263.15 214.26 L263.39 215.74 L263.63 217.21 L263.87 218.69 L264.12 220.16 L264.36 221.64 L264.60 223.11 L264.85 224.59 L265.09 226.07 L265.34 227.54 L265.58 229.02 L265.83 230.49 L266.07 231.97 L266.32 233.44 L266.57 234.92 L266.81 236.39 L267.06 237.87 L267.31 239.34 L267.56 240.82 L267.80 242.29 L268.05 243.76 L268.30 245.24 L268.55 246.71 L268.80 248.19 L269.05 249.66 L269.30 251.14 L269.55 252.61 L269.81 254.08 L270.06 255.56 L270.31 257.03 L270.56 258.51 L270.82 259.98 L271.07 261.45 L271.33 262.93 L271.58 264.40 L271.84 265.87 L272.09 267.35 L272.35 268.82 L272.61 270.29 L272.86 271.77 L273.12 273.24 L273.38 274.71 L273.64 276.19 L273.90 277.66 L274.16 279.13 L274.42 280.60 L274.68 282.08 L274.94 283.55 L275.20 285.02 L275.46 286.49 L275.73 287.96 L275.99 289.44 L276.25 290.91 L276.52 292.38 L276.78 293.85 L277.05 295.32 L277.31 296.79 L277.58 298.26 L277.85 299.73 L278.11 301.20 L278.38 302.67 L278.65 304.14 L278.92 305.61 L279.19 307.08 L279.46 308.55 L279.73 310.02 L280.00 311.49 L280.28 312.96 L280.55 314.43 L280.82 315.90 L281.10 317.37 L281.37 318.84 L281.65 320.31 L281.92 321.78 L282.20 323.24 L282.48 324.71 L282.75 326.18 L283.03 327.65 L283.31 329.12 L283.59 330.58 L283.87 332.05 L284.15 333.52 L284.43 334.98 L284.72 336.45 L285.00 337.92 L285.28 339.38 L285.57 340.85 L285.85 342.31 L286.14 343.78 L286.43 345.24 L286.71 346.71 L287.00 348.17 L287.29 349.64 L287.59 351.10 L287.88 352.57 L288.18 354.03 L288.48 355.49 L288.78 356.95 L289.08 358.42 L289.38 359.88 L289.69 361.34 L290.00 362.80 L290.32 364.26 L290.63 365.72 L290.95 367.18 L291.28 368.64 L291.60 370.09 L291.93 371.55 L292.27 373.01 L292.60 374.46 L292.95 375.91 L293.29 377.37 L293.64 378.82 L294.00 380.27 L294.36 381.73 L294.72 383.18 L295.09 384.63 L295.45 386.08 L295.83 387.52 L296.20 388.97 L296.57 390.42 L296.95 391.87 L297.32 393.32 L297.70 394.77 L298.07 396.22 L298.44 397.67 L298.81 399.12 L299.18 400.57 L299.55 402.02 L299.91 403.48 L300.26 404.93 L300.61 406.38 L300.96 407.84 L301.30 409.30 L301.63 410.76 L301.96 412.22 L302.27 413.68 L302.58 415.14 L302.88 416.61 L303.18 418.08 L303.46 419.55 L303.73 421.02 L304.00 422.49 L304.27 423.96 L304.57 425.43 L304.89 426.89 L305.25 428.33 L305.66 429.77 L306.13 431.18 L306.65 432.59 L307.20 433.99 L307.75 435.38 L308.28 436.78 L308.78 438.19 L309.22 439.61 L309.58 441.06 L309.88 442.52 L310.17 443.99 L310.51 445.45 L310.94 446.90 L311.43 448.33 L311.97 449.74 L312.55 451.11 L313.14 452.45 L313.74 453.76 L314.36 455.06 L315.05 456.40 L315.83 457.83 L316.76 459.16 L317.98 459.45 L319.22 458.76 L320.20 457.67 L320.98 456.37 L321.63 454.96 L322.21 453.53 L322.75 452.10 L323.23 450.67 L323.68 449.23 L324.08 447.78 L324.45 446.33 L324.80 444.88 L325.13 443.43 L325.43 441.97 L325.73 440.51 L326.03 439.05 L326.31 437.59 L326.60 436.13 L326.88 434.67 L327.15 433.21 L327.42 431.74 L327.69 430.28 L327.95 428.81 L328.21 427.34 L328.47 425.88 L328.72 424.41 L328.97 422.94 L329.21 421.47 L329.45 419.99 L329.69 418.52 L329.92 417.05 L330.15 415.58 L330.37 414.10 L330.60 412.62 L330.82 411.15 L331.03 409.67 L331.25 408.19 L331.46 406.72 L331.66 405.24 L331.87 403.76 L332.07 402.28 L332.27 400.79 L332.47 399.31 L332.66 397.83 L332.85 396.35 L333.04 394.87 L333.23 393.38 L333.41 391.90 L333.59 390.41 L333.77 388.93 L333.95 387.44 L334.12 385.96 L334.29 384.47 L334.46 382.98 L334.63 381.50 L334.80 380.01 L334.97 378.52 L335.13 377.03 L335.29 375.54 L335.45 374.05 L335.61 372.57 L335.77 371.08 L335.92 369.59 L336.08 368.10 L336.23 366.61 L336.38 365.12 L336.53 363.63 L336.68 362.14 L336.83 360.65 L336.98 359.16 L337.13 357.66 L337.27 356.17 L337.42 354.68 L337.56 353.19 L337.71 351.70 L337.85 350.21 L338.00 348.72 L338.14 347.23 L338.28 345.74 L338.42 344.25 L338.57 342.76 L338.71 341.27 L338.85 339.78 L338.99 338.29 L339.13 336.80 L339.28 335.31 L339.42 333.82 L339.56 332.33 L339.70 330.84 L339.84 329.35 L339.98 327.86 L340.13 326.37 L340.27 324.88 L340.41 323.40 L340.55 321.91 L340.69 320.42 L340.83 318.93 L340.97 317.44 L341.11 315.95 L341.25 314.47 L341.39 312.98 L341.53 311.49 L341.67 310.00 L341.81 308.51 L341.95 307.03 L342.09 305.54 L342.23 304.05 L342.37 302.56 L342.51 301.08 L342.65 299.59 L342.79 298.10 L342.92 296.61 L343.06 295.13 L343.20 293.64 L343.34 292.15 L343.47 290.66 L343.61 289.18 L343.74 287.69 L343.88 286.20 L344.02 284.72 L344.15 283.23 L344.29 281.74 L344.42 280.25 L344.55 278.77 L344.69 277.28 L344.82 275.79 L344.95 274.31 L345.09 272.82 L345.22 271.33 L345.35 269.84 L345.48 268.36 L345.61 266.87 L345.74 265.38 L345.87 263.89 L346.00 262.41 L346.13 260.92 L346.25 259.43 L346.38 257.94 L346.51 256.45 L346.64 254.97 L346.76 253.48 L346.89 251.99 L347.01 250.50 L347.14 249.01 L347.26 247.53 L347.38 246.04 L347.51 244.55 L347.63 243.06 L347.75 241.57 L347.87 240.08 L347.99 238.59 L348.11 237.10 L348.23 235.61 L348.35 234.12 L348.47 232.64 L348.58 231.15 L348.70 229.66 L348.82 228.17 L348.94 226.68 L349.06 225.19 L349.18 223.70 L349.30 222.21 L349.42 220.72 L349.54 219.23 L349.66 217.74 L349.78 216.25 L349.90 214.76 L350.03 213.27 L350.15 211.78 L350.28 210.29 L350.40 208.80 L350.53 207.31 L350.66 205.82 L350.79 204.33 L350.92 202.84 L351.06 201.35 L351.20 199.86 L351.33 198.37 L351.47 196.88 L351.62 195.39 L351.76 193.90 L351.91 192.41 L352.06 190.92 L352.21 189.43 L352.36 187.94 L352.52 186.45 L352.68 184.96 L352.84 183.48 L353.00 181.99 L353.17 180.50 L353.34 179.01 L353.52 177.52 L353.70 176.04 L353.88 174.55 L354.06 173.06 L354.25 171.58 L354.44 170.09 L354.64 168.60 L354.83 167.12 L355.04 165.63 L355.24 164.14 L355.46 162.66 L355.67 161.17 L355.89 159.69 L356.11 158.20 L356.34 156.72 L356.58 155.24 L356.81 153.75 L357.05 152.27 L357.30 150.80 L357.55 149.32 L357.80 147.84 L358.06 146.37 L358.32 144.90 L358.59 143.43 L358.86 141.97 L359.13 140.51 L359.41 139.05 L359.69 137.60 L359.97 136.15 L360.26 134.70 L360.56 133.26 L360.85 131.83 L361.15 130.40 L361.46 128.97 L361.76 127.55 L362.07 126.13 L362.36 124.69 L362.63 123.19 L362.88 121.65 L363.12 120.08 L363.38 118.50 L363.66 116.92 L363.98 115.36 L364.37 113.84 L364.83 112.39 L365.38 111.00 L366.04 109.70 L366.79 108.48 L367.62 107.34 L368.55 106.27 L369.54 105.27 L370.61 104.33 L371.75 103.45 L372.94 102.63 L374.19 101.86 L375.49 101.14 L376.82 100.46 L378.20 99.82 L379.60 99.21 L381.03 98.64 L382.47 98.09 L383.92 97.57 L385.39 97.06 L386.85 96.57 L388.30 96.09 L389.75 95.62 L391.19 95.15 L392.62 94.69 L394.05 94.23 L395.47 93.78 L396.88 93.33 L398.29 92.88 L399.70 92.43 L401.10 91.97 L402.49 91.52 L403.89 91.06 L405.28 90.60 L406.67 90.13 L408.06 89.65 L409.45 89.16 L410.83 88.67 L412.22 88.16 L413.61 87.65 L414.99 87.12 L416.38 86.59 L417.77 86.05 L419.16 85.51 L420.54 84.96 L421.93 84.40 L423.32 83.84 L424.71 83.28 L426.10 82.71 L427.49 82.14 L428.89 81.57 L430.28 81.00 L431.67 80.43 L433.07 79.86 L434.46 79.29 L435.86 78.72 L437.26 78.16 L438.66 77.59 L440.06 77.04 L441.46 76.48 L442.86 75.94 L444.27 75.40 L445.68 74.86 L447.09 74.33 L448.50 73.82 L449.91 73.31 L451.33 72.81 L452.74 72.32 L454.16 71.84 L455.58 71.37 L457.01 70.92 L458.43 70.48 L459.86 70.05 L461.29 69.64 L462.72 69.24 L464.16 68.86 L465.60 68.50 L467.04 68.15 L468.48 67.82 L469.93 67.52 L471.38 67.23 L472.83 66.96 L474.29 66.71 L475.75 66.48 L477.21 66.27 L478.67 66.09 L480.14 65.93 L481.62 65.80 L483.09 65.69 L484.57 65.61 L486.05 65.55 L487.54 65.52 L489.03 65.52 L490.53 65.54 L492.02 65.57 L493.52 65.63 L495.02 65.70 L496.53 65.78 L498.03 65.87 L499.54 65.97 L501.04 66.08 L502.55 66.19 L504.06 66.31 L505.57 66.42 L507.08 66.53 L508.59 66.63 L510.10 66.73 L511.60 66.82 L513.11 66.89 L514.61 66.95 L516.12 67.00 L517.62 67.02 L519.11 67.03 L520.61 67.01 L522.10 66.96 L523.59 66.89 L525.08 66.79 L526.56 66.66 L528.04 66.49 L529.51 66.30 L530.99 66.09 L532.46 65.86 L533.93 65.62 L535.39 65.36 L536.86 65.09 L538.33 64.81 L539.79 64.54 L541.26 64.26 L542.72 63.98 L544.19 63.72 L545.66 63.46 L547.13 63.21 L548.60 62.96 L550.07 62.73 L551.55 62.50 L553.02 62.28 L554.49 62.06 L555.97 61.85 L557.45 61.65 L558.92 61.46 L560.40 61.27 L561.88 61.09 L563.36 60.92 L564.84 60.75 L566.32 60.59 L567.80 60.44 L569.29 60.29 L570.77 60.15 L572.26 60.02 L573.74 59.89 L575.23 59.76 L576.71 59.65 L578.20 59.54 L579.69 59.43 L581.18 59.33 L582.67 59.23 L584.16 59.14 L585.65 59.06 L587.14 58.98 L588.63 58.91 L590.12 58.84 L591.62 58.78 L593.11 58.72 L594.60 58.66 L596.10 58.61 L597.59 58.57 L599.09 58.53 L600.58 58.49 L602.08 58.46 L603.57 58.44 L605.07 58.41 L606.57 58.39 L608.06 58.38 L609.56 58.37 L611.06 58.36 L612.56 58.36 L614.05 58.36 L615.55 58.36 L617.05 58.37 L618.55 58.38 L620.05 58.39 L621.55 58.41 L623.05 58.43 L624.55 58.45 L626.05 58.48 L627.54 58.51 L629.04 58.54 L630.54 58.58 L632.04 58.61 L633.54 58.65 L635.04 58.69 L636.54 58.74 L638.04 58.78 L639.54 58.83 L641.04 58.88 L642.54 58.94 L644.04 58.99 L645.54 59.05 L647.04 59.10 L648.53 59.16 L650.03 59.22 L651.53 59.29 L653.03 59.35 L654.53 59.41 L656.02 59.48 L657.52 59.55 L659.02 59.61 L660.51 59.68 L662.01 59.75 L663.51 59.82 L665.00 59.89 L666.50 59.97 L667.99 60.04 L669.48 60.11 L670.98 60.18 L672.47 60.26 L673.96 60.33 L675.46 60.40 L676.95 60.48 L678.44 60.55 L679.93 60.63 L681.43 60.70 L682.92 60.78 L684.41 60.85 L685.90 60.93 L687.39 61.00 L688.88 61.07 L690.37 61.15 L691.86 61.22 L693.35 61.30 L694.84 61.37 L696.33 61.45 L697.82 61.52 L699.31 61.59 L700.80 61.67 L702.29 61.74 L703.78 61.81 L705.27 61.88 L706.76 61.95 L708.25 62.02 L709.74 62.09 L711.23 62.16 L712.72 62.23 L714.21 62.30 L715.70 62.37 L717.19 62.43 L718.68 62.50 L720.17 62.56 L721.66 62.63 L723.15 62.69 L724.64 62.75 L726.13 62.81 L727.62 62.87 L729.12 62.93 L730.61 62.99 L732.10 63.04 L733.59 63.10 L735.08 63.15 L736.57 63.20 L738.07 63.26 L739.56 63.31 L741.05 63.35 L742.55 63.40 L744.04 63.45 L745.54 63.49 L747.03 63.53 L748.53 63.57 L750.02 63.61 L751.52 63.65 L753.01 63.69 L754.51 63.72 L756.01 63.75 L757.50 63.78 L759.00 63.81 L760.50 63.84 L762.00 63.87 L763.50 63.89 L765.00 63.91" stroke="#00f590" />
<path d="M81.00 101.41 L82.48 101.39 L83.95 101.39 L85.43 101.39 L86.90 101.40 L88.38 101.41 L89.86 101.41 L91.33 101.41 L92.81 101.40 L94.29 101.38 L95.77 101.37 L97.24 101.39 L98.70 101.48 L100.16 101.67 L101.59 101.97 L103.02 102.40 L104.43 102.87 L105.83 103.30 L107.24 103.57 L108.66 103.60 L110.09 103.36 L111.50 102.91 L112.89 102.30 L114.25 101.58 L115.55 100.80 L116.81 99.97 L118.02 99.11 L119.18 98.21 L120.31 97.27 L121.40 96.30 L122.46 95.30 L123.49 94.28 L124.50 93.23 L125.50 92.16 L126.48 91.08 L127.44 89.98 L128.40 88.88 L129.36 87.76 L130.32 86.64 L131.28 85.52 L132.25 84.40 L133.22 83.29 L134.21 82.18 L135.21 81.09 L136.23 80.02 L137.27 78.97 L138.33 77.94 L139.42 76.94 L140.54 75.96 L141.69 75.03 L142.88 74.12 L144.10 73.26 L145.36 72.45 L146.65 71.68 L147.97 70.96 L149.32 70.29 L150.69 69.68 L152.07 69.13 L153.47 68.64 L154.89 68.21 L156.31 67.85 L157.73 67.55 L159.16 67.34 L160.58 67.19 L162.00 67.13 L163.42 67.14 L164.83 67.22 L166.23 67.37 L167.63 67.59 L169.03 67.86 L170.42 68.19 L171.81 68.57 L173.19 68.99 L174.58 69.45 L175.96 69.96 L177.34 70.49 L178.72 71.05 L180.10 71.64 L181.48 72.24 L182.85 72.86 L184.23 73.49 L185.61 74.13 L187.00 74.77 L188.38 75.40 L189.77 76.03 L191.16 76.65 L192.55 77.25 L193.95 77.83 L195.35 78.38 L196.76 78.91 L198.17 79.40 L199.59 79.86 L201.01 80.27 L202.44 80.65 L203.88 80.99 L205.31 81.31 L206.74 81.62 L208.17 81.91 L209.60 82.21 L211.01 82.52 L212.42 82.84 L213.82 83.18 L215.21 83.56 L216.58 83.97 L217.93 84.44 L219.27 84.95 L220.58 85.53 L221.88 86.18 L223.15 86.88 L224.39 87.65 L225.62 88.47 L226.81 89.34 L227.99 90.27 L229.13 91.23 L230.25 92.24 L231.35 93.29 L232.41 94.37 L233.45 95.49 L234.45 96.63 L235.43 97.80 L236.38 98.99 L237.29 100.20 L238.17 101.43 L239.02 102.66 L239.84 103.91 L240.63 105.18 L241.39 106.45 L242.13 107.74 L242.83 109.03 L243.51 110.34 L244.17 111.66 L244.80 112.99 L245.40 114.32 L245.99 115.67 L246.55 117.02 L247.10 118.38 L247.63 119.75 L248.13 121.13 L248.62 122.51 L249.10 123.90 L249.56 125.29 L250.01 126.69 L250.44 128.10 L250.86 129.51 L251.27 130.92 L251.67 132.34 L252.06 133.76 L252.45 135.18 L252.82 136.60 L253.19 138.03 L253.56 139.46 L253.92 140.89 L254.28 142.32 L254.64 143.75 L254.99 145.18 L255.34 146.62 L255.68 148.05 L256.02 149.48 L256.36 150.92 L256.70 152.35 L257.03 153.79 L257.36 155.23 L257.69 156.66 L258.01 158.10 L258.33 159.54 L258.65 160.98 L258.96 162.42 L259.28 163.86 L259.59 165.30 L259.89 166.75 L260.20 168.19 L260.50 169.63 L260.80 171.08 L261.09 172.52 L261.39 173.97 L261.68 175.41 L261.97 176.86 L262.25 178.31 L262.54 179.75 L262.82 181.20 L263.10 182.65 L263.37 184.10 L263.65 185.55 L263.92 187.00 L264.19 188.45 L264.46 189.90 L264.73 191.35 L264.99 192.80 L265.25 194.25 L265.51 195.71 L265.77 197.16 L266.03 198.61 L266.28 200.07 L266.54 201.52 L266.79 202.98 L267.04 204.43 L267.28 205.89 L267.53 207.34 L267.78 208.80 L268.02 210.25 L268.26 211.71 L268.50 213.17 L268.74 214.63 L268.98 216.08 L269.21 217.54 L269.45 219.00 L269.68 220.46 L269.91 221.92 L270.15 223.38 L270.38 224.83 L270.60 226.29 L270.83 227.75 L271.06 229.21 L271.28 230.67 L271.51 232.13 L271.73 233.59 L271.96 235.05 L272.18 236.52 L272.40 237.98 L272.62 239.44 L272.84 240.90 L273.06 242.36 L273.28 243.82 L273.50 245.28 L273.71 246.74 L273.93 248.20 L274.15 249.67 L274.36 251.13 L274.58 252.59 L274.80 254.05 L275.01 255.51 L275.23 256.97 L275.44 258.44 L275.65 259.90 L275.87 261.36 L276.08 262.82 L276.30 264.28 L276.51 265.74 L276.72 267.21 L276.94 268.67 L277.15 270.13 L277.37 271.59 L277.58 273.05 L277.79 274.51 L278.01 275.97 L278.22 277.44 L278.44 278.90 L278.66 280.36 L278.87 281.82 L279.09 283.28 L279.31 284.74 L279.52 286.20 L279.74 287.66 L279.96 289.12 L280.18 290.58 L280.39 292.04 L280.61 293.50 L280.83 294.96 L281.05 296.41 L281.27 297.87 L281.49 299.33 L281.71 300.79 L281.93 302.25 L282.15 303.71 L282.38 305.17 L282.60 306.63 L282.82 308.08 L283.04 309.54 L283.26 311.00 L283.49 312.46 L283.71 313.92 L283.93 315.38 L284.16 316.83 L284.38 318.29 L284.60 319.75 L284.83 321.21 L285.05 322.66 L285.28 324.12 L285.50 325.58 L285.72 327.04 L285.95 328.49 L286.17 329.95 L286.40 331.41 L286.62 332.87 L286.85 334.32 L287.08 335.78 L287.30 337.24 L287.53 338.70 L287.75 340.15 L287.98 341.61 L288.21 343.07 L288.43 344.53 L288.66 345.98 L288.88 347.44 L289.11 348.90 L289.34 350.36 L289.56 351.81 L289.79 353.27 L290.02 354.73 L290.24 356.18 L290.47 357.64 L290.70 359.10 L290.92 360.56 L291.15 362.01 L291.38 363.47 L291.60 364.93 L291.83 366.39 L292.06 367.85 L292.28 369.30 L292.51 370.76 L292.74 372.22 L292.96 373.68 L293.19 375.14 L293.41 376.59 L293.64 378.05 L293.86 379.51 L294.09 380.97 L294.31 382.43 L294.54 383.89 L294.76 385.34 L294.98 386.80 L295.21 388.26 L295.43 389.72 L295.65 391.18 L295.87 392.64 L296.09 394.10 L296.31 395.56 L296.53 397.02 L296.75 398.48 L296.97 399.94 L297.19 401.40 L297.41 402.86 L297.62 404.32 L297.84 405.78 L298.05 407.24 L298.27 408.70 L298.48 410.16 L298.69 411.62 L298.91 413.08 L299.12 414.55 L299.33 416.01 L299.54 417.47 L299.74 418.93 L299.95 420.39 L300.16 421.86 L300.36 423.32 L300.57 424.78 L300.77 426.25 L300.97 427.71 L301.17 429.17 L301.37 430.64 L301.57 432.10 L301.77 433.56 L301.98 435.03 L302.18 436.49 L302.39 437.95 L302.60 439.41 L302.83 440.87 L303.06 442.33 L303.30 443.79 L303.55 445.24 L303.81 446.69 L304.09 448.14 L304.38 449.59 L304.69 451.03 L305.01 452.47 L305.35 453.91 L305.72 455.34 L306.10 456.77 L306.51 458.19 L306.94 459.61 L307.40 461.01 L307.89 462.39 L308.40 463.77 L308.93 465.13 L309.45 466.51 L309.93 467.91 L310.43 469.34 L311.24 470.69 L312.41 471.50 L313.49 470.90 L314.39 469.63 L315.15 468.30 L315.79 466.95 L316.35 465.59 L316.85 464.20 L317.31 462.81 L317.75 461.41 L318.18 460.00 L318.60 458.59 L319.01 457.17 L319.40 455.75 L319.79 454.32 L320.16 452.89 L320.52 451.46 L320.87 450.03 L321.21 448.59 L321.55 447.15 L321.87 445.70 L322.18 444.26 L322.48 442.82 L322.78 441.37 L323.06 439.92 L323.33 438.47 L323.60 437.02 L323.85 435.57 L324.10 434.12 L324.34 432.66 L324.56 431.21 L324.78 429.75 L324.99 428.29 L325.19 426.82 L325.38 425.36 L325.57 423.90 L325.75 422.43 L325.92 420.96 L326.09 419.49 L326.25 418.02 L326.41 416.55 L326.57 415.08 L326.72 413.61 L326.88 412.14 L327.03 410.67 L327.18 409.20 L327.33 407.73 L327.49 406.26 L327.64 404.79 L327.79 403.32 L327.94 401.86 L328.09 400.39 L328.25 398.92 L328.40 397.45 L328.55 395.98 L328.70 394.51 L328.85 393.05 L329.01 391.58 L329.16 390.11 L329.31 388.65 L329.46 387.18 L329.61 385.71 L329.77 384.25 L329.92 382.78 L330.07 381.31 L330.22 379.85 L330.37 378.38 L330.53 376.91 L330.68 375.45 L330.83 373.98 L330.98 372.52 L331.13 371.05 L331.28 369.58 L331.43 368.12 L331.58 366.65 L331.73 365.19 L331.88 363.72 L332.03 362.26 L332.18 360.79 L332.33 359.32 L332.48 357.86 L332.63 356.39 L332.78 354.92 L332.93 353.46 L333.08 351.99 L333.23 350.52 L333.38 349.06 L333.53 347.59 L333.67 346.12 L333.82 344.66 L333.97 343.19 L334.12 341.72 L334.26 340.25 L334.41 338.78 L334.56 337.32 L334.70 335.85 L334.85 334.38 L334.99 332.91 L335.14 331.44 L335.28 329.97 L335.43 328.50 L335.57 327.03 L335.72 325.56 L335.86 324.09 L336.01 322.62 L336.15 321.15 L336.29 319.68 L336.43 318.21 L336.58 316.74 L336.72 315.27 L336.86 313.80 L337.00 312.33 L337.14 310.86 L337.28 309.39 L337.43 307.91 L337.57 306.44 L337.71 304.97 L337.85 303.50 L337.99 302.03 L338.13 300.56 L338.26 299.09 L338.40 297.61 L338.54 296.14 L338.68 294.67 L338.82 293.20 L338.96 291.73 L339.09 290.25 L339.23 288.78 L339.37 287.31 L339.50 285.84 L339.64 284.37 L339.78 282.89 L339.91 281.42 L340.05 279.95 L340.18 278.48 L340.32 277.01 L340.45 275.53 L340.59 274.06 L340.72 272.59 L340.86 271.12 L340.99 269.65 L341.12 268.18 L341.26 266.71 L341.39 265.23 L341.52 263.76 L341.65 262.29 L341.79 260.82 L341.92 259.35 L342.05 257.88 L342.18 256.41 L342.31 254.94 L342.44 253.47 L342.57 252.00 L342.70 250.53 L342.83 249.06 L342.96 247.59 L343.09 246.12 L343.22 244.65 L343.35 243.18 L343.48 241.71 L343.61 240.24 L343.73 238.77 L343.86 237.30 L343.99 235.83 L344.12 234.36 L344.24 232.90 L344.37 231.43 L344.50 229.96 L344.62 228.49 L344.75 227.03 L344.87 225.56 L345.00 224.09 L345.12 222.63 L345.25 221.16 L345.37 219.69 L345.50 218.23 L345.62 216.76 L345.75 215.30 L345.87 213.83 L346.00 212.37 L346.12 210.90 L346.25 209.44 L346.38 207.98 L346.51 206.51 L346.64 205.05 L346.78 203.59 L346.91 202.12 L347.05 200.66 L347.19 199.20 L347.34 197.74 L347.48 196.27 L347.63 194.81 L347.79 193.35 L347.95 191.89 L348.11 190.43 L348.27 188.97 L348.44 187.50 L348.62 186.04 L348.80 184.58 L348.99 183.12 L349.18 181.66 L349.37 180.20 L349.57 178.74 L349.78 177.28 L349.99 175.82 L350.21 174.36 L350.44 172.90 L350.67 171.44 L350.92 169.98 L351.16 168.52 L351.42 167.07 L351.68 165.61 L351.95 164.15 L352.23 162.69 L352.52 161.23 L352.82 159.77 L353.12 158.31 L353.43 156.85 L353.76 155.40 L354.09 153.94 L354.43 152.48 L354.79 151.02 L355.15 149.56 L355.52 148.10 L355.90 146.65 L356.30 145.19 L356.70 143.73 L357.12 142.28 L357.56 140.83 L358.01 139.39 L358.49 137.96 L358.99 136.55 L359.52 135.16 L360.08 133.79 L360.67 132.46 L361.30 131.15 L361.98 129.88 L362.69 128.65 L363.45 127.46 L364.27 126.31 L365.13 125.22 L366.05 124.18 L367.03 123.20 L368.06 122.27 L369.15 121.39 L370.28 120.56 L371.47 119.77 L372.69 119.03 L373.95 118.32 L375.25 117.64 L376.58 117.00 L377.94 116.39 L379.32 115.79 L380.72 115.22 L382.15 114.67 L383.58 114.13 L385.03 113.60 L386.48 113.07 L387.94 112.55 L389.39 112.03 L390.85 111.50 L392.29 110.97 L393.73 110.43 L395.15 109.87 L396.55 109.30 L397.94 108.71 L399.31 108.10 L400.67 107.47 L402.01 106.84 L403.34 106.18 L404.65 105.52 L405.95 104.84 L407.24 104.15 L408.52 103.44 L409.79 102.73 L411.06 102.01 L412.31 101.27 L413.56 100.53 L414.80 99.78 L416.03 99.02 L417.26 98.26 L418.49 97.49 L419.71 96.72 L420.94 95.94 L422.16 95.16 L423.38 94.37 L424.60 93.59 L425.82 92.80 L427.04 92.01 L428.27 91.22 L429.50 90.44 L430.74 89.65 L431.98 88.87 L433.22 88.08 L434.47 87.31 L435.73 86.53 L436.99 85.77 L438.26 85.00 L439.54 84.25 L440.82 83.50 L442.10 82.75 L443.39 82.02 L444.69 81.29 L445.99 80.58 L447.30 79.87 L448.61 79.18 L449.93 78.50 L451.26 77.82 L452.59 77.17 L453.93 76.52 L455.27 75.89 L456.62 75.28 L457.98 74.68 L459.34 74.09 L460.71 73.53 L462.08 72.98 L463.46 72.45 L464.85 71.94 L466.24 71.45 L467.64 70.97 L469.04 70.52 L470.45 70.09 L471.87 69.67 L473.29 69.28 L474.72 68.90 L476.15 68.54 L477.58 68.19 L479.02 67.87 L480.46 67.56 L481.91 67.27 L483.36 66.99 L484.81 66.73 L486.26 66.48 L487.72 66.25 L489.18 66.04 L490.64 65.83 L492.11 65.65 L493.57 65.47 L495.04 65.31 L496.51 65.17 L497.98 65.03 L499.44 64.91 L500.91 64.80 L502.38 64.70 L503.86 64.61 L505.33 64.53 L506.80 64.46 L508.27 64.40 L509.75 64.35 L511.22 64.30 L512.69 64.27 L514.17 64.24 L515.64 64.21 L517.12 64.19 L518.60 64.18 L520.07 64.17 L521.55 64.16 L523.03 64.16 L524.50 64.16 L525.98 64.16 L527.46 64.16 L528.93 64.17 L530.41 64.17 L531.89 64.18 L533.37 64.18 L534.84 64.19 L536.32 64.19 L537.80 64.19 L539.28 64.18 L540.75 64.18 L542.23 64.17 L543.71 64.15 L545.19 64.13 L546.66 64.11 L548.14 64.08 L549.61 64.04 L551.09 64.00 L552.57 63.96 L554.04 63.91 L555.52 63.86 L556.99 63.80 L558.47 63.74 L559.94 63.67 L561.42 63.60 L562.89 63.53 L564.36 63.46 L565.84 63.38 L567.31 63.30 L568.79 63.22 L570.26 63.14 L571.73 63.05 L573.21 62.96 L574.68 62.87 L576.15 62.78 L577.63 62.69 L579.10 62.60 L580.57 62.51 L582.05 62.41 L583.52 62.32 L584.99 62.23 L586.47 62.13 L587.94 62.04 L589.41 61.95 L590.89 61.85 L592.36 61.76 L593.83 61.67 L595.31 61.58 L596.78 61.50 L598.25 61.41 L599.73 61.33 L601.20 61.25 L602.67 61.17 L604.15 61.09 L605.62 61.02 L607.09 60.95 L608.57 60.88 L610.04 60.81 L611.52 60.74 L612.99 60.68 L614.47 60.62 L615.94 60.56 L617.41 60.50 L618.89 60.45 L620.36 60.40 L621.84 60.34 L623.31 60.30 L624.79 60.25 L626.26 60.20 L627.74 60.16 L629.21 60.12 L630.69 60.08 L632.16 60.04 L633.64 60.01 L635.11 59.97 L636.59 59.94 L638.06 59.91 L639.54 59.88 L641.02 59.85 L642.49 59.83 L643.97 59.80 L645.44 59.78 L646.92 59.76 L648.39 59.74 L649.87 59.72 L651.34 59.70 L652.82 59.69 L654.30 59.68 L655.77 59.66 L657.25 59.65 L658.72 59.64 L660.20 59.63 L661.68 59.63 L663.15 59.62 L664.63 59.62 L666.10 59.61 L667.58 59.61 L669.06 59.61 L670.53 59.61 L672.01 59.61 L673.49 59.62 L674.96 59.62 L676.44 59.63 L677.91 59.63 L679.39 59.64 L680.87 59.65 L682.34 59.66 L683.82 59.67 L685.30 59.68 L686.77 59.69 L688.25 59.70 L689.73 59.71 L691.20 59.73 L692.68 59.74 L694.15 59.76 L695.63 59.77 L697.11 59.79 L698.58 59.81 L700.06 59.83 L701.54 59.85 L703.01 59.87 L704.49 59.89 L705.97 59.91 L707.44 59.93 L708.92 59.95 L710.40 59.97 L711.87 60.00 L713.35 60.02 L714.82 60.04 L716.30 60.07 L717.78 60.09 L719.25 60.12 L720.73 60.14 L722.21 60.17 L723.68 60.19 L725.16 60.22 L726.63 60.24 L728.11 60.27 L729.59 60.29 L731.06 60.32 L732.54 60.35 L734.01 60.37 L735.49 60.40 L736.97 60.43 L738.44 60.45 L739.92 60.48 L741.39 60.51 L742.87 60.53 L744.35 60.56 L745.82 60.59 L747.30 60.61 L748.77 60.64 L750.25 60.66 L751.72 60.69 L753.20 60.71 L754.67 60.74 L756.15 60.76 L757.62 60.79 L759.10 60.81 L760.57 60.84 L762.05 60.86 L763.52 60.88 L765.00 60.90" stroke="#0000f0" />
</g>
<g font-size="19.2">
<path transform="translate(105.48,542.40) scale(0.9697)" fill="#000" stroke="#000" stroke-width="0.3" d="M5.3 0 L7.4 0 L7.4 -14.3 L5.8 -14.3 C5.0 -13.0 3.6 -11.9 1.8 -11.0 L1.8 -9.2 C3.1 -9.8 4.4 -10.7 5.3 -11.6 Z"/><text x="116.16" y="542.4">00</text><text x="201.88" y="542.4" text-anchor="middle">200</text><text x="282.27" y="542.4" text-anchor="middle">300</text><text x="362.66" y="542.4" text-anchor="middle">400</text><text x="443.05" y="542.4" text-anchor="middle">500</text><text x="523.44" y="542.4" text-anchor="middle">600</text><text x="603.82" y="542.4" text-anchor="middle">700</text><text x="684.21" y="542.4" text-anchor="middle">800</text><text x="764.60" y="542.4" text-anchor="middle">900</text>
<text x="64.5" y="465.14" text-anchor="end">20</text><text x="64.5" y="363.62" text-anchor="end">40</text><text x="64.5" y="262.10" text-anchor="end">60</text><text x="64.5" y="160.58" text-anchor="end">80</text><path transform="translate(32.47,59.06) scale(0.9697)" fill="#000" stroke="#000" stroke-width="0.3" d="M5.3 0 L7.4 0 L7.4 -14.3 L5.8 -14.3 C5.0 -13.0 3.6 -11.9 1.8 -11.0 L1.8 -9.2 C3.1 -9.8 4.4 -10.7 5.3 -11.6 Z"/><text x="43.15" y="59.06">00</text>
</g>
<line x1="304.30" y1="457.30" x2="285.91" y2="467.55" stroke="#000" stroke-width="1.5"/><polygon points="276.30,472.90 285.86,463.34 289.46,469.81" fill="#000"/>
<line x1="326.00" y1="446.30" x2="347.44" y2="459.52" stroke="#000" stroke-width="1.5"/><polygon points="356.80,465.30 343.79,461.62 347.68,455.33" fill="#000"/>
<line x1="503.60" y1="414.40" x2="552.02" y2="389.44" stroke="#000" stroke-width="1.5"/><polygon points="561.80,384.40 551.94,393.65 548.55,387.07" fill="#000"/>
<line x1="526.00" y1="437.50" x2="551.40" y2="464.75" stroke="#000" stroke-width="1.5"/><polygon points="558.90,472.80 547.33,465.81 552.74,460.77" fill="#000"/>
<g font-size="24.2">
<text x="155.0" y="489.5" font-size="24.5">fiberboard</text>
<text x="350" y="482.6">fibers</text>
<text x="567.5" y="385.8" font-size="24.5">fiberboard</text>
<text x="566" y="492.7">fibers</text>
</g>
<text x="334.2" y="582.8" font-size="24.7">Temperature</text>
<text x="480.1" y="582.8" font-size="24.7" stroke="#000" stroke-width="0.4">/</text>
<circle cx="491.6" cy="565.6" r="2.3" fill="none" stroke="#000" stroke-width="0.9"/>
<text transform="translate(493.2,583.2) scale(0.876,1)" font-size="30.4" stroke-width="0.1" style="font-family:'Liberation Serif',serif">C</text>
<text transform="translate(20,299.6) rotate(-90)" font-size="24.2">Weight /%</text>
</svg>
</body></html>
